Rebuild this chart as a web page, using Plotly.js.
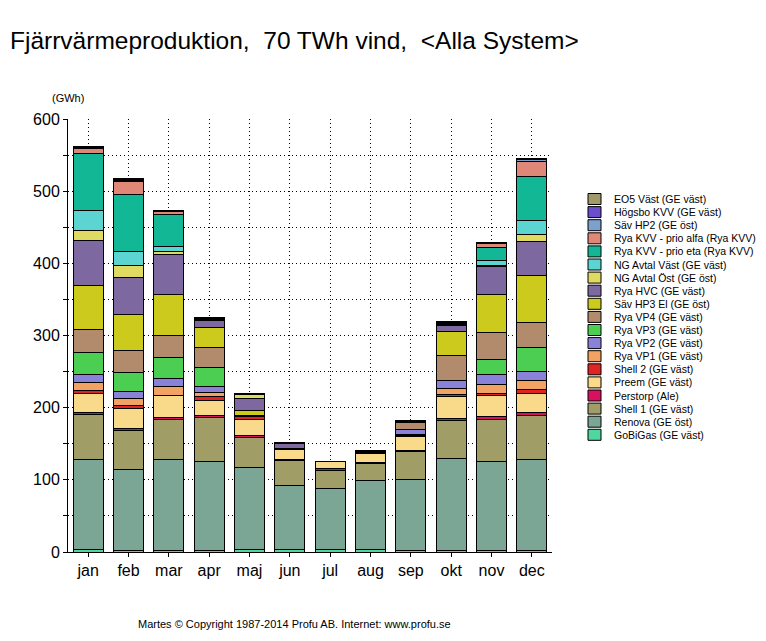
<!DOCTYPE html>
<html>
<head>
<meta charset="utf-8">
<script src="https://cdn.plot.ly/plotly-3.0.1.min.js"></script>
<style>html,body{margin:0;padding:0;background:#fff;}</style>
</head>
<body>
<div id="chart" style="width:766px;height:641px;"></div>
<script>
// Categories
const months = ["jan","feb","mar","apr","maj","jun","jul","aug","sep","okt","nov","dec"];

// Series (bottom of stack first), values in GWh
const gobigas   = [3, 2, 2.3, 2, 2.8, 2.8, 2.8, 2.8, 2, 2.3, 2, 2.3];
const renova    = [125, 112.6, 126, 124, 114.6, 89.6, 85.4, 95.6, 98.7, 127.5, 124, 125.2];
const shell1    = [62, 54, 55, 60.5, 41.5, 34, 25.4, 24.5, 38.3, 52.1, 58, 61.4];
const perstorp  = [3, 3, 2.7, 3.2, 3.2, 2.4, 2.4, 0.8, 2.3, 3.3, 3.2, 4.1];
const preem     = [26, 26.7, 30.4, 20.8, 22, 13.4, 9.2, 13.1, 18.5, 29.9, 29, 26.9];
const shell2    = [4.5, 4.6, 1, 4.6, 3, 1.4, 0, 1, 1.6, 3.7, 4, 4.6];
const vp1       = [11, 10.3, 11.5, 6, 1.5, 0, 0, 0, 1.7, 7.9, 12, 13.8];
const vp2       = [11.5, 9.7, 11.6, 7.7, 0, 0, 0, 0, 6, 11.5, 13.5, 12.5];
const vp3       = [31, 26.3, 29, 26.9, 0, 0, 0, 0, 0, 0, 21, 32.8];
const vp4       = [32, 29.5, 30.5, 27.7, 0, 0, 0, 0, 10.7, 33.7, 37.5, 34.7];
const savHP3    = [60, 51, 57.3, 27.7, 7, 0, 0, 0, 0, 34.2, 52.6, 65.5];
const ryaHVC    = [62, 51, 55, 10, 17.6, 7, 0, 1.5, 1, 7.4, 39.3, 47.1];
const ngOst     = [14, 15.7, 4, 0, 5, 0, 0, 0, 0, 1, 1.5, 9.7];
const ngVast    = [28, 20, 7.6, 1, 0, 0, 0, 0, 0, 1, 7, 19.4];
const kvvEta    = [79.5, 79, 44, 1, 0, 0, 0, 0, 0, 1, 17.6, 60];
const kvvAlfa   = [7, 17.5, 3.6, 0, 0, 0, 0, 0, 0, 1, 5.5, 21.8];
const savHP2    = [1, 1.5, 0.8, 0.5, 0, 0, 0, 0.5, 0, 0.5, 0.5, 1.5];
const hogsbo    = [1, 1.5, 0.8, 0.5, 0.5, 0.5, 0, 0.5, 0, 0.5, 0.5, 1];
const eo5       = [1, 1.7, 0.8, 0.5, 1, 1, 0.5, 1, 1.2, 0.5, 0.3, 1.2];

const seriesNames = [
  "GoBiGas (GE väst)", "Renova (GE öst)", "Shell 1 (GE väst)", "Perstorp (Ale)",
  "Preem (GE väst)", "Shell 2 (GE väst)", "Rya VP1 (GE väst)", "Rya VP2 (GE väst)",
  "Rya VP3 (GE väst)", "Rya VP4 (GE väst)", "Säv HP3 El (GE öst)", "Rya HVC (GE väst)",
  "NG Avtal Öst (GE öst)", "NG Avtal Väst (GE väst)", "Rya KVV - prio eta (Rya KVV)",
  "Rya KVV - prio alfa (Rya KVV)", "Säv HP2 (GE öst)", "Högsbo KVV (GE väst)", "EO5 Väst (GE väst)"
];
const seriesValues = [gobigas, renova, shell1, perstorp, preem, shell2, vp1, vp2, vp3, vp4,
  savHP3, ryaHVC, ngOst, ngVast, kvvEta, kvvAlfa, savHP2, hogsbo, eo5];
const seriesColors = [
  "#52D6A0", "#7BA696", "#A09E66", "#D81060", "#F8DA8A", "#E02424", "#F2A262", "#8A82D8",
  "#4CCE52", "#B28A6C", "#CCCA1C", "#7E68A0", "#DEDA62", "#5CD4D2", "#12B896",
  "#E08878", "#7EA0CC", "#6A4ECC", "#A09A6A"
];

const traces = seriesNames.map((name, i) => ({
  type: "bar",
  name: name,
  x: months,
  y: seriesValues[i],
  marker: { color: seriesColors[i], line: { color: "#000", width: 1 } },
  showlegend: false,
  hoverinfo: "x+y+name"
}));

// Plot area in pixels
const L = 68, R = 552, T = 119, B = 552;
const px2x = px => (px - L) / (R - L);
const px2y = py => (B - py) / (B - T);

const shapes = [];
const annotations = [];
// Custom legend (top to bottom = top of stack to bottom)
for (let k = 0; k < seriesNames.length; k++) {
  const i = seriesNames.length - 1 - k;
  const cy = 199 + 13.1 * k;
  shapes.push({
    type: "rect", xref: "paper", yref: "paper",
    x0: px2x(588), x1: px2x(601), y0: px2y(cy + 5.5), y1: px2y(cy - 5.5),
    fillcolor: seriesColors[i], line: { color: "#000", width: 1 }
  });
  annotations.push({
    xref: "paper", yref: "paper", x: px2x(612), y: px2y(cy),
    xanchor: "left", yanchor: "middle", showarrow: false,
    text: seriesNames[i], font: { family: "Liberation Sans, Arial, sans-serif", size: 10.5, color: "#000" }
  });
}
annotations.push({
  xref: "paper", yref: "paper", x: px2x(68), y: px2y(98),
  xanchor: "center", yanchor: "middle", showarrow: false,
  text: "(GWh)", font: { family: "Liberation Sans, Arial, sans-serif", size: 11, color: "#000" }
});
annotations.push({
  xref: "paper", yref: "paper", x: px2x(294), y: px2y(624),
  xanchor: "center", yanchor: "middle", showarrow: false,
  text: "Martes © Copyright 1987-2014 Profu AB. Internet: www.profu.se",
  font: { family: "Liberation Sans, Arial, sans-serif", size: 11, color: "#000" }
});

const yTickVals = [0, 50, 100, 150, 200, 250, 300, 350, 400, 450, 500, 550, 600];
const yTickText = ["0", "", "100", "", "200", "", "300", "", "400", "", "500", "", "600"];

const layout = {
  width: 766, height: 641,
  margin: { l: L, r: 766 - R, t: T, b: 641 - B, pad: 0 },
  paper_bgcolor: "#fff", plot_bgcolor: "#fff",
  barmode: "stack", bargap: 0.26,
  showlegend: false,
  title: {
    text: "Fjärrvärmeproduktion,\u00a0\u00a070 TWh vind,\u00a0\u00a0<Alla System>",
    x: 10 / 766, xref: "container", xanchor: "left",
    y: 1 - 40 / 641, yref: "container", yanchor: "middle",
    font: { family: "Liberation Sans, Arial, sans-serif", size: 24.5, color: "#000" }
  },
  xaxis: {
    type: "category",
    showline: true, linecolor: "#000", linewidth: 1,
    ticks: "outside", ticklen: 4, tickcolor: "#000",
    showgrid: true, gridcolor: "#000", gridwidth: 1, griddash: "1px,3px",
    tickfont: { family: "Liberation Sans, Arial, sans-serif", size: 16, color: "#000" },
    fixedrange: true
  },
  yaxis: {
    range: [0, 600],
    tickmode: "array", tickvals: yTickVals, ticktext: yTickText,
    showline: true, linecolor: "#000", linewidth: 1,
    ticks: "outside", ticklen: 4, tickcolor: "#000",
    showgrid: true, gridcolor: "#000", gridwidth: 1, griddash: "1px,3px",
    zeroline: false,
    tickfont: { family: "Liberation Sans, Arial, sans-serif", size: 16, color: "#000" },
    fixedrange: true
  },
  shapes: shapes,
  annotations: annotations
};

Plotly.newPlot("chart", traces, layout, { displayModeBar: false, staticPlot: true });
</script>
</body>
</html>
